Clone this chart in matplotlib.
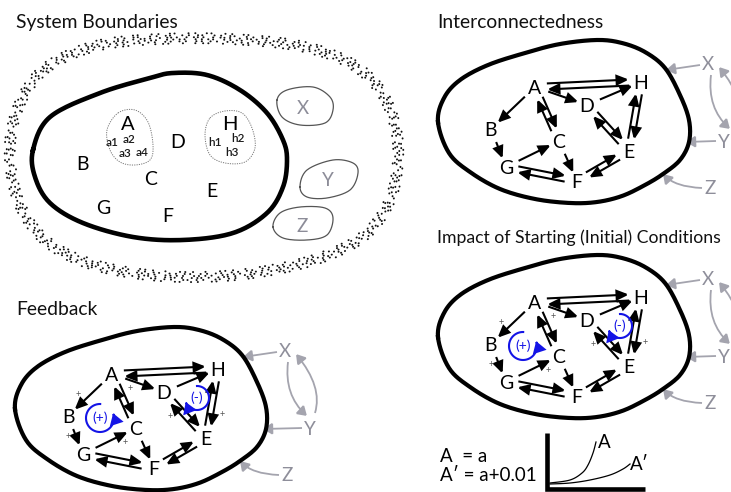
import numpy as np
import matplotlib
matplotlib.use("Agg")
import matplotlib.pyplot as plt
from matplotlib.patches import FancyArrowPatch
from matplotlib.path import Path

# ---------------- data ----------------
titles = ["System Boundaries", "Interconnectedness", "Feedback",
          "Impact of Starting (Initial) Conditions"]
nodes = ["A", "B", "C", "D", "E", "F", "G", "H"]
single_edges = [("A", "B"), ("A", "D"), ("D", "H"), ("B", "G"), ("G", "C"), ("C", "F")]
double_edges = [("A", "H"), ("C", "A"), ("D", "E"), ("H", "E"), ("F", "G"), ("F", "E")]
externals = ["X", "Y", "Z"]
a_parts = ["a1", "a2", "a3", "a4"]
h_parts = ["h1", "h2", "h3"]
signs = ["+", "+", "+", "+", "+", "+", "-"]
loop_labels = ["(+)", "(-)"]
equations = ["A  = a", "A\u2032 = a+0.01"]
curve_labels = ["A", "A\u2032"]
# sketch curves of the small inset
curve_A_x = [550, 570, 582, 588, 593, 596]
curve_A_y = [483, 480, 473, 465, 453, 442]
curve_Ap_x = [550, 570, 590, 610, 623, 630]
curve_Ap_y = [484, 483, 480, 475, 469, 464]

# ---------------- layout ----------------
W, H = 731, 492
plt.rcParams["font.family"] = ["Lato", "DejaVu Sans"]
fig = plt.figure(figsize=(W / 100, H / 100), dpi=100)
ax = fig.add_axes([0, 0, 1, 1])
ax.set_xlim(0, W)
ax.set_ylim(H, 0)
ax.axis("off")

CAP = 0.72
PX = 100 / 72


def label(x, y, s, size=13.5, color="black", ha="center", **kw):
    ax.text(x, y + size * PX * CAP / 2, s, ha=ha, va="baseline",
            fontsize=size, color=color, **kw)


def cr(pts, closed=True, n=16):
    P = np.asarray(pts, float)
    if not closed:
        P = np.vstack([P[0], P, P[-1]])
    N = len(P)
    out = []
    rng = range(N) if closed else range(1, N - 2)
    for i in rng:
        p0, p1, p2, p3 = P[i - 1], P[i], P[(i + 1) % N], P[(i + 2) % N]
        t = np.linspace(0, 1, n, endpoint=False)[:, None]
        out.append(0.5 * (2 * p1 + (-p0 + p2) * t + (2 * p0 - 5 * p1 + 4 * p2 - p3) * t ** 2
                          + (-p0 + 3 * p1 - 3 * p2 + p3) * t ** 3))
    out = np.vstack(out)
    if closed:
        out = np.vstack([out, out[:1]])
    else:
        out = np.vstack([out, P[-2]])
    return out


def arrow_path(verts, codes=None, color="black", lw=1.5, ms=14, hl=0.5, hw=0.22):
    p = FancyArrowPatch(path=Path(np.asarray(verts, float), codes),
                        arrowstyle=f"-|>,head_length={hl},head_width={hw}",
                        mutation_scale=ms, lw=lw, color=color,
                        joinstyle="miter", capstyle="butt")
    ax.add_patch(p)


def arrow(p, q, **kw):
    arrow_path([p, q], **kw)


# titles
title_pos = [(16, 28), (437, 28), (16, 315), (437, 243)]
title_size = [13.9, 13.9, 13.9, 12.7]
for t, (x, y), fs in zip(titles, title_pos, title_size):
    ax.text(x, y, t, fontsize=fs, ha="left", va="baseline", color="#111")

# ---------------- panel 1: system boundaries ----------------
sb_outer = [(10, 160), (14, 120), (30, 85), (55, 62), (100, 45), (160, 39), (230, 39),
            (300, 46), (350, 63), (380, 90), (395, 125), (398, 160), (390, 200),
            (365, 235), (320, 258), (260, 272), (200, 277), (140, 274), (85, 262),
            (45, 240), (20, 205)]
outer = cr(sb_outer, n=30)
d = np.gradient(outer, axis=0)
nrm = np.c_[-d[:, 1], d[:, 0]]
nrm /= np.linalg.norm(nrm, axis=1)[:, None]
band = [(-5.0, (0.0, (0.1, 3.4, 0.1, 5.8, 0.1, 2.3, 0.1, 7.1))),
        (-3.0, (1.3, (0.1, 4.6, 0.1, 2.1, 0.1, 6.2, 0.1, 3.3))),
        (-1.0, (2.6, (0.1, 2.8, 0.1, 4.9, 0.1, 3.7, 0.1, 1.9))),
        (1.0, (0.7, (0.1, 3.1, 0.1, 3.2, 0.1, 2.4, 0.1, 5.6))),
        (3.0, (3.1, (0.1, 5.3, 0.1, 2.7, 0.1, 4.4, 0.1, 3.2))),
        (5.0, (1.9, (0.1, 6.3, 0.1, 3.9, 0.1, 2.6, 0.1, 7.4)))]
for off, ls in band:
    c = outer + nrm * off
    ax.plot(c[:, 0], c[:, 1], color="#111", lw=1.4, linestyle=ls, dash_capstyle="round")

sb_inner = [(33, 150), (50, 117), (100, 93), (150, 78), (173, 73), (207, 75), (240, 90),
            (267, 113), (283, 140), (287, 160), (283, 187), (267, 213), (233, 233),
            (183, 240), (133, 237), (83, 223), (50, 203), (35, 177)]
c = cr(sb_inner)
ax.plot(c[:, 0], c[:, 1], color="black", lw=3.3, solid_joinstyle="round")

a_blob = [(118, 113), (135, 110), (148, 122), (153, 145), (150, 160), (135, 165),
          (120, 162), (110, 150), (107, 130)]
h_blob = [(210, 118), (225, 111), (242, 113), (252, 128), (255, 148), (245, 162),
          (225, 163), (210, 155), (205, 135)]
for b in (a_blob, h_blob):
    c = cr(b)
    ax.plot(c[:, 0], c[:, 1], color="#777", lw=0.7, linestyle=(0, (1.2, 1.2)))

sb_pos = {"A": (128, 123), "H": (230, 123), "D": (178, 141), "B": (83, 163),
          "C": (151, 178), "E": (212, 190), "G": (103, 207), "F": (168, 215)}
for n in nodes:
    label(*sb_pos[n], n, size=14.5 if n in "AH" else 14)
a_pos = [(112, 142), (129, 139), (125, 153), (142, 152)]
h_pos = [(215, 142), (238, 138), (232, 152)]
for s, p in zip(a_parts, a_pos):
    label(*p, s, size=8.5, color="#1a1a1a", fontweight="semibold")
for s, p in zip(h_parts, h_pos):
    label(*p, s, size=8.5, color="#1a1a1a", fontweight="semibold")

ext_blobs = [
    [(277, 100), (287, 90), (313, 87), (330, 97), (333, 110), (325, 123), (300, 125), (282, 117)],
    [(300, 187), (307, 170), (333, 160), (353, 163), (358, 173), (350, 190), (327, 198), (307, 197)],
    [(273, 227), (280, 213), (300, 207), (325, 208), (333, 218), (327, 235), (307, 240), (283, 238)],
]
ext_lab_pos = [(303, 107), (328, 179), (302, 225)]
for e, b, p in zip(externals, ext_blobs, ext_lab_pos):
    c = cr(b)
    ax.plot(c[:, 0], c[:, 1], color="#555", lw=0.9)
    label(*p, e, size=13.5, color="#8c8c98")

# ---------------- network panels ----------------
net_blob = [(438, 122), (444, 98), (460, 80), (488, 65), (525, 53), (560, 44), (597, 40),
            (622, 43), (645, 52), (665, 68), (680, 95), (689, 120), (689, 142), (680, 160),
            (663, 174), (645, 185), (622, 196), (597, 202), (570, 203), (535, 199),
            (500, 189), (470, 172), (449, 153)]
node_pos = {"A": (535, 87), "H": (641, 82), "D": (587, 105), "B": (491, 129),
            "C": (559, 141), "E": (629, 151), "G": (506, 167), "F": (577, 181)}
sign_pos = [(501, 108), (553, 102), (491, 150), (548, 155), (593, 129), (645, 128), (617, 88)]
loop_geo = [(523, 131, 14, 85, 380), (620, 111, 12, 95, -160)]
ext_pos = {"X": (708, 63), "Y": (733, 141), "Z": (710, 187)}
GRAY = "#a4a4ae"
GTXT = "#8e8e9a"


def network(dx, dy, feedback=False):
    sh = np.array([dx, dy], float)
    c = cr(net_blob) + sh
    ax.plot(c[:, 0], c[:, 1], color="black", lw=3.0, solid_joinstyle="round")
    P = {k: np.array(v, float) + sh for k, v in node_pos.items()}
    for n in nodes:
        label(*P[n], n, size=14)
    for a, b in single_edges:
        u = P[b] - P[a]
        u /= np.linalg.norm(u)
        arrow(P[a] + u * 14, P[b] - u * 9)
    for a, b in double_edges:
        u = P[b] - P[a]
        u /= np.linalg.norm(u)
        nv = np.array([-u[1], u[0]])
        s, e = P[a] + u * 12, P[b] - u * 12
        arrow(s - nv * 3, e - nv * 3)
        arrow(e + nv * 3, s + nv * 3)
    if feedback:
        for sg, p in zip(signs, sign_pos):
            ax.text(p[0] + dx, p[1] + dy, sg, ha="center", va="center",
                    fontsize=6.5, color="#555")
        for lab, (cx, cy, r, t0, t1) in zip(loop_labels, loop_geo):
            cx, cy = cx + dx, cy + dy
            th = np.radians(np.linspace(t0, t1, 80))
            pts = np.c_[cx + r * np.cos(th), cy - r * np.sin(th)]
            arrow_path(pts, color="#1414e6", lw=1.5, ms=11, hl=0.55, hw=0.35)
            ax.text(cx, cy, lab, ha="center", va="center", fontsize=10, color="#1414e6")
    # external elements (labels kept inside the picture)
    lab_x = {}
    for e in externals:
        x, y = ext_pos[e]
        lx = min(x + dx, W - 7)
        lab_x[e] = lx
        label(lx, y + dy, e, size=13.5, color=GTXT)
    kw = dict(color=GRAY, lw=1.3, ms=10, hl=0.55, hw=0.35)
    arrow((lab_x["X"] - 8, 65 + dy), (666 + dx, 70 + dy), **kw)
    arrow((lab_x["Y"] - 8, 141 + dy), (686 + dx, 142 + dy), **kw)
    Q = [Path.MOVETO, Path.CURVE3, Path.CURVE3]
    arrow_path([(lab_x["Z"] - 8, 188 + dy), (675 + dx, 187 + dy), (663 + dx, 174 + dy)], Q, **kw)
    arrow_path([(711 + dx, 75 + dy), (707 + dx, 108 + dy), (730 + dx, 129 + dy)], Q, **kw)
    arrow_path([(738 + dx, 126 + dy), (746 + dx, 100 + dy), (719 + dx, 67 + dy)], Q, **kw)


network(0, 0)
network(-423, 287, feedback=True)
network(0, 215, feedback=True)

# ---------------- inset of panel 4 ----------------
ax.text(440, 462, equations[0], fontsize=13.5, ha="left", va="baseline")
ax.text(440, 481, equations[1], fontsize=13.5, ha="left", va="baseline")
ax.plot([547, 547, 645], [433, 489, 489], color="black", lw=3.3,
        solid_joinstyle="miter", solid_capstyle="butt")
for xs, ys in ((curve_A_x, curve_A_y), (curve_Ap_x, curve_Ap_y)):
    c = cr(list(zip(xs, ys)), closed=False)
    ax.plot(c[:, 0], c[:, 1], color="black", lw=0.9)
ax.text(598, 448, curve_labels[0], fontsize=13.5, ha="left", va="baseline")
ax.text(630, 470, curve_labels[1], fontsize=13.5, ha="left", va="baseline")

fig.savefig("out.png", dpi=100)
